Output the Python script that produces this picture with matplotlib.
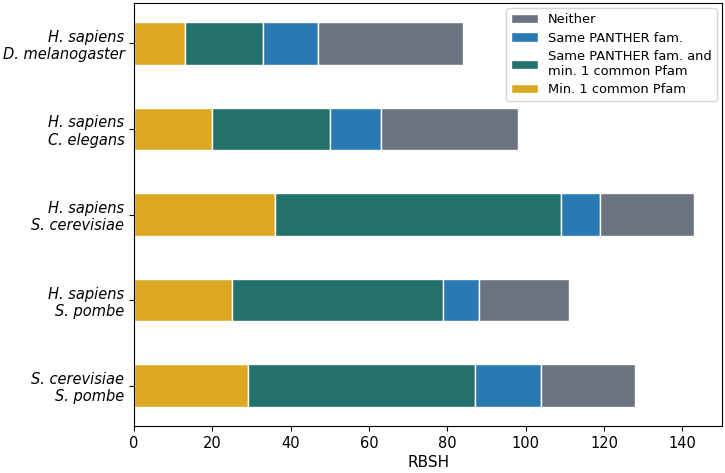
import matplotlib
matplotlib.use("Agg")
import matplotlib.pyplot as plt
import numpy as np

pairs = [
    ("H. sapiens", "D. melanogaster"),
    ("H. sapiens", "C. elegans"),
    ("H. sapiens", "S. cerevisiae"),
    ("H. sapiens", "S. pombe"),
    ("S. cerevisiae", "S. pombe"),
]
pfam_only = [13, 20, 36, 25, 29]
panther_and_pfam = [20, 30, 73, 54, 58]
panther_only = [14, 13, 10, 9, 17]
neither = [37, 35, 24, 23, 24]

series = [
    ("Min. 1 common Pfam", pfam_only, "#DCA823"),
    ("Same PANTHER fam. and\nmin. 1 common Pfam", panther_and_pfam, "#22716A"),
    ("Same PANTHER fam.", panther_only, "#2A79B3"),
    ("Neither", neither, "#6C7380"),
]

fig = plt.figure(figsize=(7.25, 4.73), dpi=100)
ax = fig.add_axes([0.185, 0.099, 0.811, 0.895])

y = np.arange(len(pairs))
left = np.zeros(len(pairs))
for name, vals, col in series:
    ax.barh(y, vals, height=0.5, left=left, color=col, edgecolor="white",
            linewidth=1, label=name)
    left = left + np.array(vals)

ax.set_yticks(y)
ax.set_yticklabels([a + "\n" + b for a, b in pairs], fontstyle="italic",
                   fontsize=10.5)
ax.invert_yaxis()
ax.set_xlabel("RBSH", fontsize=11, labelpad=3)
ax.tick_params(axis="x", labelsize=10.5)

h, l = ax.get_legend_handles_labels()
ax.legend(h[::-1], l[::-1], loc="upper right", fontsize=9.4,
          borderaxespad=0.4, labelspacing=0.4)

fig.savefig("out.png", dpi=100)
